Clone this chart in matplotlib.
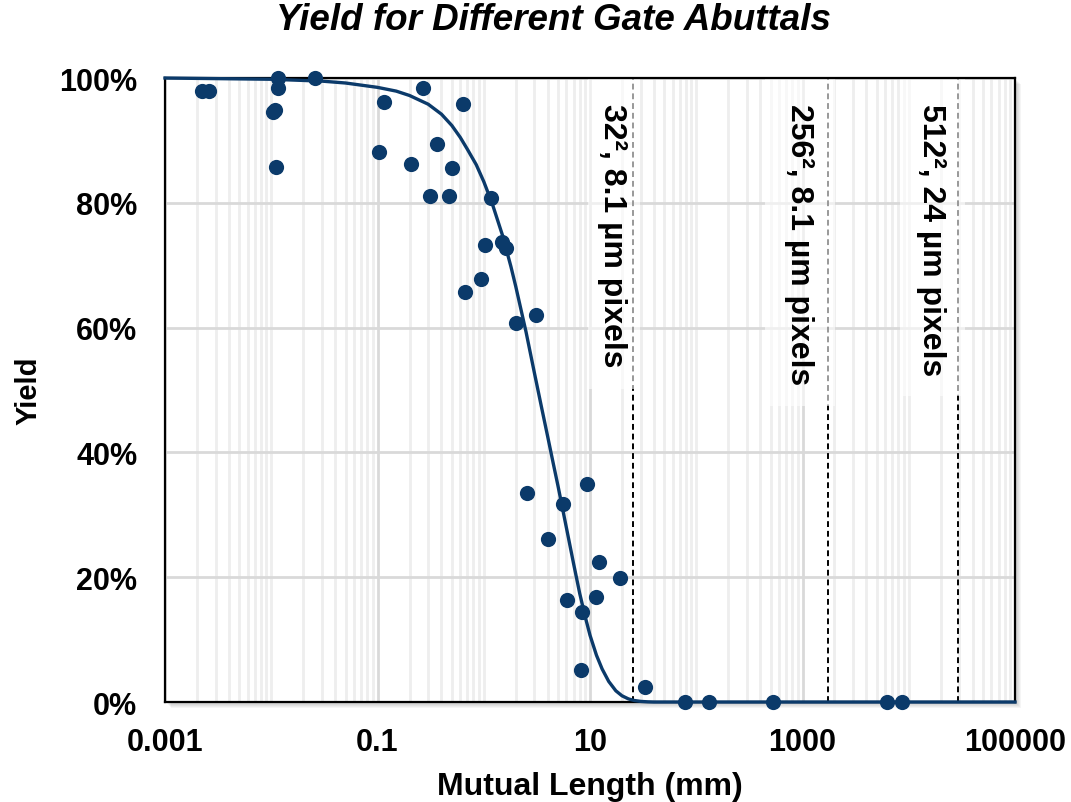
import numpy as np
import matplotlib
matplotlib.use("Agg")
import matplotlib.pyplot as plt
from matplotlib.patches import Rectangle
from matplotlib.ticker import FixedLocator, FuncFormatter, PercentFormatter
import matplotlib.transforms as mtransforms

plt.rcParams['font.family'] = ['Liberation Sans', 'DejaVu Sans']

# measured yield vs mutual length (mm)
length_mm = [0.00223, 0.0026,
             0.0116, 0.0116, 0.01045, 0.01084, 0.01098,
             0.0258, 0.116, 0.266, 0.634, 0.1038, 0.366, 0.208, 0.502,
             0.312, 0.468, 1.164, 1.47, 1.62, 1.02, 0.938, 0.671,
             2.03, 3.11, 2.53, 9.44, 5.56, 3.99, 12.2, 19.1, 6.03, 11.5,
             8.46, 8.22, 33.0,
             78.7, 133, 532, 6240, 8590]
yield_frac = [0.979, 0.979,
              1.0, 0.984, 0.946, 0.949, 0.857,
              1.0, 0.962, 0.984, 0.958, 0.882, 0.894, 0.862, 0.855,
              0.811, 0.811, 0.808, 0.738, 0.728, 0.733, 0.678, 0.657,
              0.608, 0.620, 0.335, 0.349, 0.317, 0.261, 0.224, 0.198, 0.163, 0.169,
              0.145, 0.051, 0.024,
              0.0, 0.0, 0.0, 0.0, 0.0]

# fitted trend
fit_x = [0.001, 0.01, 0.03, 0.05, 0.1, 0.15, 0.2, 0.3, 0.4, 0.5, 0.6, 0.7,
         0.85, 1.0, 1.2, 1.5, 1.8, 2.0, 2.5, 3.0, 3.5, 4.0, 4.5, 5.0, 6.0,
         7.0, 8.0, 9.0, 10, 11.5, 13, 15, 17.5, 20, 23, 26, 30, 35, 40, 100000]
fit_y = [1.0, 0.998, 0.995, 0.992, 0.985, 0.979, 0.972, 0.958, 0.942, 0.924,
         0.905, 0.886, 0.861, 0.834, 0.799, 0.748, 0.698, 0.666, 0.593, 0.527,
         0.472, 0.425, 0.383, 0.346, 0.279, 0.222, 0.174, 0.137, 0.107, 0.075,
         0.053, 0.033, 0.018, 0.010, 0.005, 0.0025, 0.001, 0.0003, 0.0, 0.0]

# array-size markers
marker_x = [25.4, 1738, 29100]
marker_labels = ["32\u00b2, 8.1 \u00b5m pixels",
                 "256\u00b2, 8.1 \u00b5m pixels",
                 "512\u00b2, 24 \u00b5m pixels"]

x_ticks = [0.001, 0.1, 10, 1000, 100000]
y_ticks = [0, 0.2, 0.4, 0.6, 0.8, 1.0]

navy = '#0b3a6a'

fig = plt.figure(figsize=(10.71, 8.03), dpi=100)
ax = fig.add_axes([0.1541, 0.1245, 0.7936, 0.7771])
ax.set_zorder(1)

# drop shadow behind the frame
pos = ax.get_position()
for i in range(1, 7):
    off_x = i / 1071
    off_y = i / 803
    fig.patches.append(Rectangle((pos.x0 + off_x, pos.y0 - off_y), pos.width, pos.height,
                                 transform=fig.transFigure, facecolor='#000000',
                                 alpha=0.04, edgecolor='none', zorder=-1))

ax.set_xscale('log')
ax.set_xlim(0.001, 100000)
ax.set_ylim(0, 1.0)

minor = [m * 10.0**e for e in range(-3, 5) for m in range(1, 10)]
minor = [v for v in minor if not any(np.isclose(v, t) for t in x_ticks)]
ax.xaxis.set_major_locator(FixedLocator(x_ticks))
ax.xaxis.set_minor_locator(FixedLocator(minor))
ax.xaxis.set_major_formatter(FuncFormatter(lambda v, p: f"{v:g}"))
ax.xaxis.set_minor_formatter(FuncFormatter(lambda v, p: ""))
ax.yaxis.set_major_locator(FixedLocator(y_ticks))
ax.yaxis.set_major_formatter(PercentFormatter(1.0, decimals=0))

ax.grid(True, which='minor', axis='x', color='#eeeeee', lw=2.0, zorder=0)
ax.grid(True, which='major', axis='x', color='#d9d9d9', lw=2.0, zorder=0)
ax.grid(True, which='major', axis='y', color='#d9d9d9', lw=2.0, zorder=0)
ax.set_axisbelow(True)

ax.tick_params(which='both', length=0)
ax.tick_params(axis='y', pad=20, labelsize=22)
ax.tick_params(axis='x', pad=18, labelsize=22)
for lab in ax.get_xticklabels() + ax.get_yticklabels():
    lab.set_fontweight('bold')

for sp in ax.spines.values():
    sp.set_linewidth(1.6)
    sp.set_color('black')

# dashed marker lines with semi-transparent label boxes
box_ranges = [(9.58, 29.6, 0.502), (444, 2023, 0.474), (8280, 33840, 0.490)]
label_shift = [0.2, 0.27, 0.25]   # decades left of the line
trans = mtransforms.blended_transform_factory(ax.transData, ax.transAxes)
for xv, lab, (lo, hi, bot), sh in zip(marker_x, marker_labels, box_ranges, label_shift):
    ax.axvline(xv, color='black', lw=1.4, ls=(0, (3, 2)), zorder=2)
    ax.axvspan(lo, hi, ymin=bot, ymax=1.0, facecolor='white', alpha=0.6,
               edgecolor='none', zorder=2.5)
    ax.text(xv * 10**(-sh), 0.96, lab, transform=trans, rotation=270,
            ha='center', va='top', fontsize=23, fontweight='bold', zorder=3)

ax.plot(fit_x, fit_y, color=navy, lw=2.4, zorder=4, clip_on=False)
ax.scatter(length_mm, yield_frac, s=120, color=navy, zorder=5, clip_on=False,
           linewidths=0)

ax.set_xlabel("Mutual Length (mm)", fontsize=23, fontweight='bold', labelpad=10)
ax.set_ylabel("Yield", fontsize=21, fontweight='bold', labelpad=12)
fig.text(0.517, 0.974, "Yield for Different Gate Abuttals", ha='center', va='center',
         fontsize=26.5, fontweight='bold', fontstyle='italic')

fig.savefig("out.png", dpi=100)
